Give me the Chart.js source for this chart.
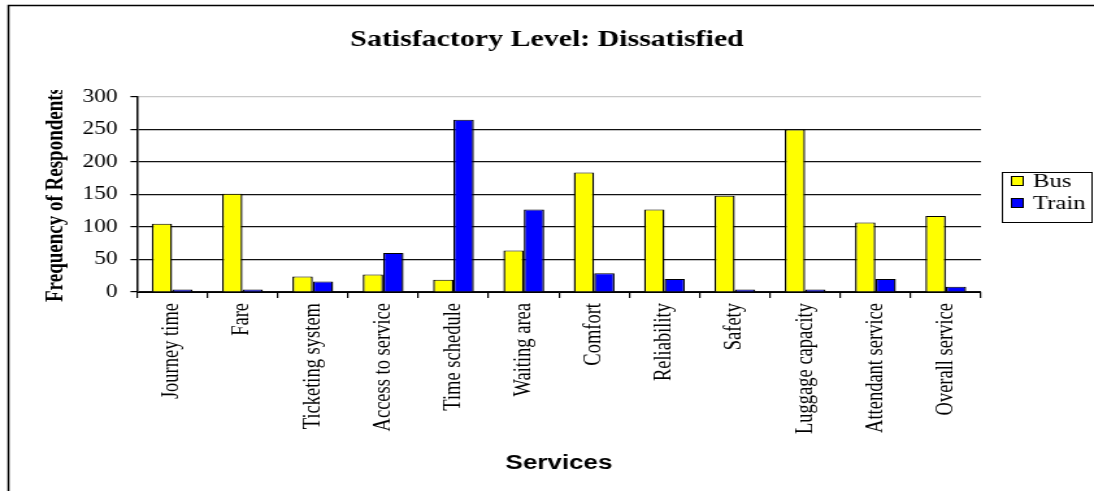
<!DOCTYPE html>
<html>
<head>
<meta charset="utf-8">
<script src="https://cdn.jsdelivr.net/npm/chart.js@4"></script>
<style>
  html, body { margin: 0; padding: 0; background: #fff; }
  canvas { display: block; }
</style>
</head>
<body>
<!-- drawn narrow and stretched sideways, like the old spreadsheet export -->
<canvas id="chart" width="842" height="491" style="width:1094px;height:491px"></canvas>
<script>
const services = [
  "Journey time", "Fare", "Ticketing system", "Access to service",
  "Time schedule", "Waiting area", "Comfort", "Reliability",
  "Safety", "Luggage capacity", "Attendant service", "Overall service"
];
const busCounts = [105, 151, 24, 27, 19, 64, 184, 127, 148, 250, 107, 117];
const trainCounts = [4, 4, 16, 60, 265, 127, 29, 20, 4, 4, 20, 8];
const yTicks = [0, 50, 100, 150, 200, 250, 300];

const SERIF = "'Liberation Serif', 'Times New Roman', serif";
const SANS = "'Liberation Sans', Arial, sans-serif";

// frame, title, clipped y title and boxed legend
const extras = {
  id: "extras",
  afterDraw(chart) {
    const ctx = chart.ctx;
    ctx.save();
    ctx.strokeStyle = "#000";
    ctx.lineWidth = 1.5;
    ctx.beginPath();
    ctx.moveTo(6.5, 491);
    ctx.lineTo(6.5, 5.5);
    ctx.lineTo(842, 5.5);
    ctx.stroke();

    // title centred on the whole frame
    ctx.fillStyle = "#000";
    ctx.font = "bold 23px " + SERIF;
    ctx.textAlign = "center";
    ctx.textBaseline = "middle";
    ctx.fillText("Satisfactory Level: Dissatisfied", 421, 40);

    // y title runs out of room at the top
    ctx.save();
    ctx.beginPath();
    ctx.rect(0, 90, 100, 400);
    ctx.clip();
    ctx.translate(43, 302);
    ctx.rotate(-Math.PI / 2);
    ctx.font = "bold 19px " + SERIF;
    ctx.textAlign = "left";
    ctx.textBaseline = "middle";
    ctx.fillText("Frequency of Respondents", 0, 0);
    ctx.restore();

    // legend
    ctx.lineWidth = 1;
    ctx.strokeRect(771.5, 172.5, 69, 50);
    ctx.font = "19px " + SERIF;
    ctx.textAlign = "left";
    ctx.textBaseline = "middle";
    chart.data.datasets.forEach((ds, i) => {
      const cy = 181 + i * 22;
      ctx.fillStyle = ds.backgroundColor;
      ctx.fillRect(778, cy - 5, 10, 10);
      ctx.strokeStyle = "#000";
      ctx.strokeRect(778.5, cy - 4.5, 9, 9);
      ctx.fillStyle = "#000";
      ctx.fillText(ds.label, 795, cy + 1);
    });
    ctx.restore();
  }
};

new Chart(document.getElementById("chart"), {
  type: "bar",
  data: {
    labels: services,
    datasets: [
      {
        label: "Bus",
        data: busCounts,
        backgroundColor: "#ffff00",
        borderColor: "#000",
        borderWidth: { top: 1, left: 1.4, right: 1.4, bottom: 0 }
      },
      {
        label: "Train",
        data: trainCounts,
        backgroundColor: "#0000ff",
        borderColor: "#000",
        borderWidth: { top: 1, left: 1.4, right: 1.4, bottom: 0 }
      }
    ]
  },
  options: {
    responsive: false,
    animation: false,
    categoryPercentage: 0.58,
    barPercentage: 1,
    layout: { padding: { left: 0, right: 87, top: 97, bottom: 0 } },
    plugins: {
      legend: { display: false },
      tooltip: { enabled: false },
      title: { display: false }
    },
    scales: {
      x: {
        grid: {
          offset: true,
          drawOnChartArea: false,
          drawTicks: true,
          tickLength: 6,
          color: "#000",
          lineWidth: 1.2
        },
        border: { color: "#000", width: 1 },
        ticks: {
          autoSkip: false,
          maxRotation: 90,
          minRotation: 90,
          padding: 5,
          color: "#000",
          font: { family: SERIF, size: 18.5 }
        },
        title: {
          display: true,
          text: "Services",
          color: "#000",
          font: { family: SANS, size: 20, weight: "bold" },
          padding: { top: 0, bottom: 16 }
        },
        afterFit(scale) { scale.height = 199; }
      },
      y: {
        min: 0,
        max: 300,
        afterBuildTicks(scale) { scale.ticks = yTicks.map(v => ({ value: v })); },
        grid: {
          color: ctx => (ctx.tick && ctx.tick.value === 300 ? "#c8c8c8" : "#111"),
          tickColor: "#000",
          lineWidth: 1.2,
          drawTicks: true,
          tickLength: 5
        },
        border: { color: "#000", width: 1.5 },
        ticks: {
          padding: 10,
          color: "#000",
          font: { family: SERIF, size: 18 }
        },
        afterFit(scale) { scale.width = 105.4; }
      }
    }
  },
  plugins: [extras]
});
</script>
</body>
</html>
